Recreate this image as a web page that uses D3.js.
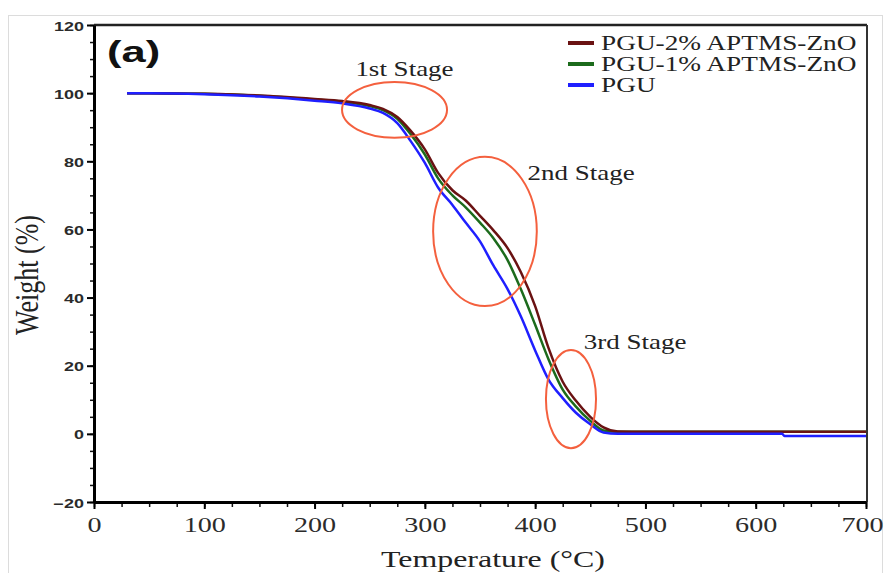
<!DOCTYPE html>
<html>
<head>
<meta charset="utf-8">
<script src="https://cdn.jsdelivr.net/npm/d3@7"></script>
<style>
  html, body { margin: 0; padding: 0; background: #fff; }
  svg { display: block; }
</style>
</head>
<body>
<div id="chart"></div>
<script>
const width = 885;
const height = 573;

// Data
const temps = [30, 50, 100, 150, 200, 225, 250, 262, 275, 287, 300, 312, 325, 337, 350, 362, 375, 387, 400, 412, 425, 437, 450, 462, 475, 500, 550, 600, 624, 626, 650, 700];
const pgu   = [100, 100, 99.7, 99, 97.8, 97, 95.5, 94.2, 91.2, 86, 79.5, 72.3, 67.2, 62, 56.5, 49.5, 42.5, 34.5, 24.5, 16, 10.5, 6.2, 2.8, 0.4, 0, 0, 0, 0, 0, -0.6, -0.6, -0.6];
const pgu1  = [100, 100, 99.8, 99.2, 98.1, 97.5, 96.2, 95, 92.5, 88, 82, 75, 70, 66.5, 62, 57.5, 51, 42.5, 32, 22, 13, 8, 3.8, 1, 0.6, 0.6, 0.6, 0.6, 0.6, 0.6, 0.6, 0.6];
const pgu2  = [100, 100, 99.8, 99.3, 98.3, 97.7, 96.5, 95.4, 93, 89, 83.5, 76.6, 71.5, 68.5, 64, 59.8, 54.5, 47.5, 37.5, 25.3, 15.3, 9.7, 5, 1.9, 0.7, 0.6, 0.6, 0.6, 0.6, 0.6, 0.6, 0.6];

const seriesNames = ["PGU-2% APTMS-ZnO", "PGU-1% APTMS-ZnO", "PGU"];
const seriesColors = ["#6a1212", "#1c6b1c", "#1f1fff"];

const xTicks = [0, 100, 200, 300, 400, 500, 600, 700];
const yTicks = [-20, 0, 20, 40, 60, 80, 100, 120];

// stage annotations: centre (temp, weight) and radii (°C, %)
const stageLabels = ["1st Stage", "2nd Stage", "3rd Stage"];
const stageText = [[237, 105], [393, 74.5], [444, 25]];
const stageEllipse = [[272.5, 95.1, 47.6, 8.2], [354.5, 59.4, 47, 21.9], [432.5, 10.2, 22.7, 14.4]];

const serif = "'Liberation Serif', 'Times New Roman', serif";
const sans = "'Liberation Sans', Arial, sans-serif";
const sx = 1.33; // the picture is stretched sideways

const svg = d3.select("#chart").append("svg")
  .attr("width", width)
  .attr("height", height);

// faint outer frame
svg.append("rect")
  .attr("x", 8.5).attr("y", 15.5)
  .attr("width", 874).attr("height", 570)
  .attr("fill", "none")
  .attr("stroke", "#dcdcdc");

const x = d3.scaleLinear().domain([0, 700]).range([94, 866]);
const y = d3.scaleLinear().domain([-20, 120]).range([502, 25]);

// top and right frame
svg.append("line")
  .attr("x1", x(0)).attr("x2", x(700) + 1)
  .attr("y1", y(120)).attr("y2", y(120))
  .attr("stroke", "#222").attr("stroke-width", 2.5);
svg.append("line")
  .attr("x1", x(700) + 1).attr("x2", x(700) + 1)
  .attr("y1", y(120)).attr("y2", y(-20))
  .attr("stroke", "#333").attr("stroke-width", 2);

// minor ticks
svg.append("g")
  .attr("transform", `translate(${x(0)},0)`)
  .call(d3.axisLeft(y).tickValues(d3.range(-20, 121, 5)).tickSize(4).tickFormat(""))
  .call(g => g.select(".domain").remove())
  .call(g => g.selectAll("line").attr("stroke", "#111").attr("stroke-width", 1.5));
svg.append("g")
  .attr("transform", `translate(0,${y(-20)})`)
  .call(d3.axisBottom(x).tickValues(d3.range(0, 701, 25)).tickSize(5).tickFormat(""))
  .call(g => g.select(".domain").remove())
  .call(g => g.selectAll("line").attr("stroke", "#111").attr("stroke-width", 1.5));

// major axes
const yAxis = svg.append("g")
  .attr("transform", `translate(${x(0)},0)`)
  .call(d3.axisLeft(y).tickValues(yTicks).tickSize(7).tickSizeOuter(0));
yAxis.select(".domain").attr("stroke", "#000").attr("stroke-width", 3);
yAxis.selectAll("line").attr("stroke", "#000").attr("stroke-width", 2);
yAxis.selectAll("text")
  .attr("x", null).attr("dy", null)
  .attr("transform", `translate(-10,5) scale(1.5,1)`)
  .attr("font-family", sans)
  .attr("font-weight", "bold")
  .attr("font-size", 12)
  .attr("fill", "#2b2b2b");

const xAxis = svg.append("g")
  .attr("transform", `translate(0,${y(-20)})`)
  .call(d3.axisBottom(x).tickValues(xTicks).tickSize(7).tickSizeOuter(0));
xAxis.select(".domain").attr("stroke", "#000").attr("stroke-width", 3);
xAxis.selectAll("line").attr("stroke", "#000").attr("stroke-width", 2);
xAxis.selectAll("text")
  .attr("y", null).attr("dy", null)
  .attr("transform", d => `translate(${d === 700 ? -4 : 0},30) scale(1.28,1)`)
  .attr("font-family", serif)
  .attr("font-size", 22)
  .attr("fill", "#2b2b2b");

// axis titles
svg.append("text")
  .attr("transform", `translate(493,567) scale(${sx},1)`)
  .attr("text-anchor", "middle")
  .attr("font-family", serif)
  .attr("font-size", 24)
  .attr("fill", "#222")
  .text("Temperature (°C)");

svg.append("text")
  .attr("transform", `translate(38,275) scale(${sx},1) rotate(-90)`)
  .attr("text-anchor", "middle")
  .attr("font-family", serif)
  .attr("font-size", 26)
  .attr("fill", "#222")
  .text("Weight (%)");

// panel letter
svg.append("text")
  .attr("transform", `translate(107,62) scale(1.5,1)`)
  .attr("font-family", sans)
  .attr("font-weight", "bold")
  .attr("font-size", 29)
  .attr("fill", "#111")
  .text("(a)");

// curves
const line = d3.line()
  .x((d, i) => x(temps[i]))
  .y(d => y(d))
  .curve(d3.curveMonotoneX);

const drawOrder = [[pgu1, 1], [pgu2, 0], [pgu, 2]];
drawOrder.forEach(([vals, k]) => {
  svg.append("path")
    .datum(vals)
    .attr("d", line)
    .attr("fill", "none")
    .attr("stroke", seriesColors[k])
    .attr("stroke-width", 2.5)
    .attr("stroke-linejoin", "round");
});

// stage ellipses and labels
svg.selectAll(".stage")
  .data(stageEllipse)
  .enter()
  .append("ellipse")
  .attr("class", "stage")
  .attr("cx", d => x(d[0]))
  .attr("cy", d => y(d[1]))
  .attr("rx", d => x(d[2]) - x(0))
  .attr("ry", d => y(0) - y(d[3]))
  .attr("fill", "none")
  .attr("stroke", "#f4603e")
  .attr("stroke-width", 2);

svg.selectAll(".stage-label")
  .data(stageText)
  .enter()
  .append("text")
  .attr("class", "stage-label")
  .attr("transform", d => `translate(${x(d[0])},${y(d[1])}) scale(1.35,1)`)
  .attr("font-family", serif)
  .attr("font-size", 20)
  .attr("fill", "#222")
  .text((d, i) => stageLabels[i]);

// legend
const legend = svg.append("g");
seriesNames.forEach((name, i) => {
  const ly = 43 + i * 21;
  legend.append("line")
    .attr("x1", 568).attr("x2", 594)
    .attr("y1", ly).attr("y2", ly)
    .attr("stroke", seriesColors[i])
    .attr("stroke-width", 4);
  legend.append("text")
    .attr("transform", `translate(601,${ly + 7}) scale(1.3,1)`)
    .attr("font-family", serif)
    .attr("font-size", 21)
    .attr("fill", "#222")
    .text(name);
});
</script>
</body>
</html>
